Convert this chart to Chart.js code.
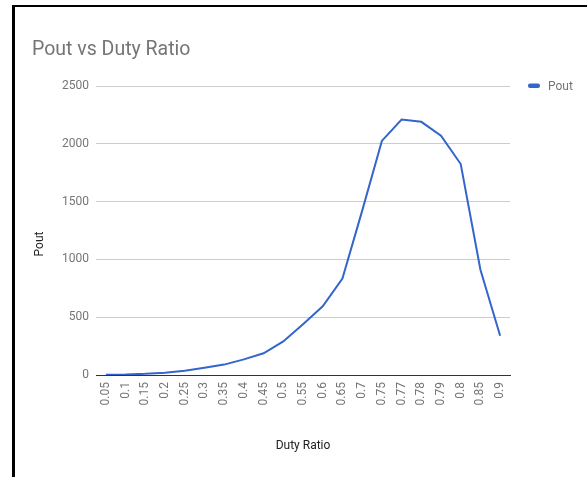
<!DOCTYPE html>
<html>
<head>
<meta charset="utf-8">
<script src="https://cdn.jsdelivr.net/npm/chart.js@4/dist/chart.umd.min.js"></script>
<style>
  html, body { margin: 0; padding: 0; background: #fff; }
  #wrap { position: relative; width: 587px; height: 477px; overflow: hidden; }
  #frame { position: absolute; left: 12px; top: 5px; width: 700px; height: 600px;
           border-left: 3px solid #000; border-top: 2px solid #000; pointer-events: none; }
  canvas { position: absolute; left: 0; top: 0; }
</style>
</head>
<body>
<div id="wrap">
  <canvas id="c" width="587" height="477"></canvas>
  <div id="frame"></div>
</div>
<script>
const chartTitle = 'Pout vs Duty Ratio';
const xTitle = 'Duty Ratio';
const yTitle = 'Pout';
const seriesName = 'Pout';
const categories = ['0.05','0.1','0.15','0.2','0.25','0.3','0.35','0.4','0.45','0.5','0.55','0.6','0.65','0.7','0.75','0.77','0.78','0.79','0.8','0.85','0.9'];
const poutValues = [2, 4, 10, 20, 37, 62, 90, 135, 188, 290, 440, 595, 835, 1420, 2025, 2210, 2190, 2070, 1825, 910, 340];
const yTicks = [0, 500, 1000, 1500, 2000, 2500];

const lineColor = '#3366cc';
const FONT = 'Roboto, "Noto Sans", sans-serif';

const decor = {
  id: 'decor',
  afterDraw(chart) {
    const ctx = chart.ctx;
    ctx.save();
    // title
    ctx.fillStyle = '#757575';
    ctx.font = '19.5px ' + FONT;
    ctx.textAlign = 'left';
    ctx.textBaseline = 'alphabetic';
    ctx.fillText(chartTitle, 32, 55);
    // legend
    ctx.fillStyle = lineColor;
    ctx.beginPath();
    if (ctx.roundRect) ctx.roundRect(528, 83.5, 12, 4.5, 2); else ctx.rect(528, 83.5, 12, 4.5);
    ctx.fill();
    ctx.fillStyle = '#757575';
    ctx.font = '12px ' + FONT;
    ctx.textBaseline = 'middle';
    ctx.fillText(seriesName, 548, 86.5);
    // y axis title
    ctx.translate(40, 244);
    ctx.rotate(-Math.PI / 2);
    ctx.fillStyle = '#222';
    ctx.textAlign = 'center';
    ctx.fillText(yTitle, 0, 0);
    ctx.restore();
  }
};

new Chart(document.getElementById('c'), {
  type: 'line',
  data: {
    labels: categories,
    datasets: [{
      label: seriesName,
      data: poutValues,
      borderColor: lineColor,
      backgroundColor: lineColor,
      borderWidth: 2,
      pointRadius: 0,
      tension: 0,
      fill: false
    }]
  },
  options: {
    responsive: false,
    animation: false,
    layout: { padding: { left: 30, top: 86, right: 77, bottom: 24 } },
    plugins: {
      legend: { display: false },
      title: { display: false },
      tooltip: { enabled: false }
    },
    scales: {
      x: {
        offset: true,
        grid: { display: false, drawTicks: false },
        border: { display: true, color: '#333', width: 1 },
        ticks: {
          minRotation: 90, maxRotation: 90, autoSkip: false,
          padding: 7, color: '#757575', font: { family: FONT, size: 12 }
        },
        title: { display: true, text: xTitle, color: '#222', padding: 0, font: { family: FONT, size: 12 } },
        afterFit(s) { s.height = 78; }
      },
      y: {
        min: 0, max: 2500,
        afterBuildTicks(s) { s.ticks = yTicks.map(v => ({ value: v })); },
        grid: {
          drawTicks: false,
          color: (c) => (c.tick && c.tick.value === 0) ? '#333' : '#cccccc',
          lineWidth: 1
        },
        border: { display: false },
        ticks: {
          padding: 7, color: '#757575', font: { family: FONT, size: 12 },
          callback: (v) => String(v)
        },
        afterFit(s) { s.width = 66; }
      }
    }
  },
  plugins: [decor]
});
</script>
</body>
</html>
